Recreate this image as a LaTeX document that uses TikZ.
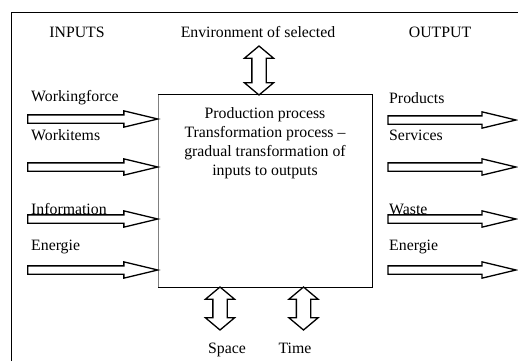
\documentclass[tikz,border=0pt]{standalone}
\usepackage{fontspec}
\setmainfont{Liberation Serif}
\usetikzlibrary{shapes.arrows}
\begin{document}
\begin{tikzpicture}[x=1pt,y=-1pt,
  every node/.style={font=\fontsize{15.8}{19}\selectfont, inner sep=0pt},
  harrow/.style={single arrow, draw=black, fill=white, line width=1.3pt,
    inner sep=3.5pt, minimum width=15pt, single arrow head extend=4pt,
    single arrow tip angle=27, outer sep=0pt},
  varrow/.style={double arrow, draw=black, fill=white, line width=1.3pt,
    shape border rotate=90, inner sep=6.5pt, minimum width=28pt,
    double arrow head extend=7.5pt, double arrow tip angle=100, outer sep=0pt},
  lbl/.style={anchor=west}
]
\useasboundingbox (0,0) rectangle (518,361);
% outer frame (partly visible)
\draw[line width=1.6pt] (11.5,361) -- (11.5,12.5) -- (518,12.5);

% headings
\node (inputs) at (77,32) {INPUTS};
\node (env) at (258,32) {Environment of selected};
\node (output) at (440,32) {OUTPUT};

% central box
\node[minimum width=214pt, minimum height=192pt] (box) at (265,191) {};
\draw[line width=1.3pt] (box.north west) -- (box.north east) -- (box.south east) -- (box.south west);
\draw[gray, line width=0.6pt] (box.north west) -- (box.south west);
\node[align=center] (boxtext) at (265,143.5) {Production process\\Transformation process --\\gradual transformation of\\inputs to outputs};

% input arrows
\node[harrow, minimum height=130pt, anchor=tip] (in1) at (box.west |- 0,119) {};
\node[harrow, minimum height=130pt, anchor=tip] (in2) at (box.west |- 0,167) {};
\node[harrow, minimum height=130pt, anchor=tip] (in3) at (box.west |- 0,219) {};
\node[harrow, minimum height=130pt, anchor=tip] (in4) at (box.west |- 0,270) {};
\node[lbl] (l1) at (31,98) {Workingforce};
\node[lbl] (l2) at (31,135) {Workitems};
\node[lbl] (l3) at (31,209) {Information};
\node[lbl] (l4) at (31,247) {Energie};

% output arrows
\node[harrow, minimum height=128pt, anchor=tail] (out1) at (388,120) {};
\node[harrow, minimum height=128pt, anchor=tail] (out2) at (388,167) {};
\node[harrow, minimum height=128pt, anchor=tail] (out3) at (388,219) {};
\node[harrow, minimum height=128pt, anchor=tail] (out4) at (388,270) {};
\node[lbl] (r1) at (389,98) {Products};
\node[lbl] (r2) at (389,135) {Services};
\node[lbl] (r3) at (389,209) {Waste};
\node[lbl] (r4) at (389,247) {Energie};

% vertical double arrows
\node[varrow, minimum height=49pt] (top) at (259,70.5) {};
\node[varrow, minimum height=43pt] (space) at (220,308.5) {};
\node[varrow, minimum height=43pt] (time) at (303.5,308.5) {};
\node[anchor=base] (spacel) at (227,353) {Space};
\node[anchor=base] (timel) at (295,353) {Time};
\end{tikzpicture}
\end{document}
